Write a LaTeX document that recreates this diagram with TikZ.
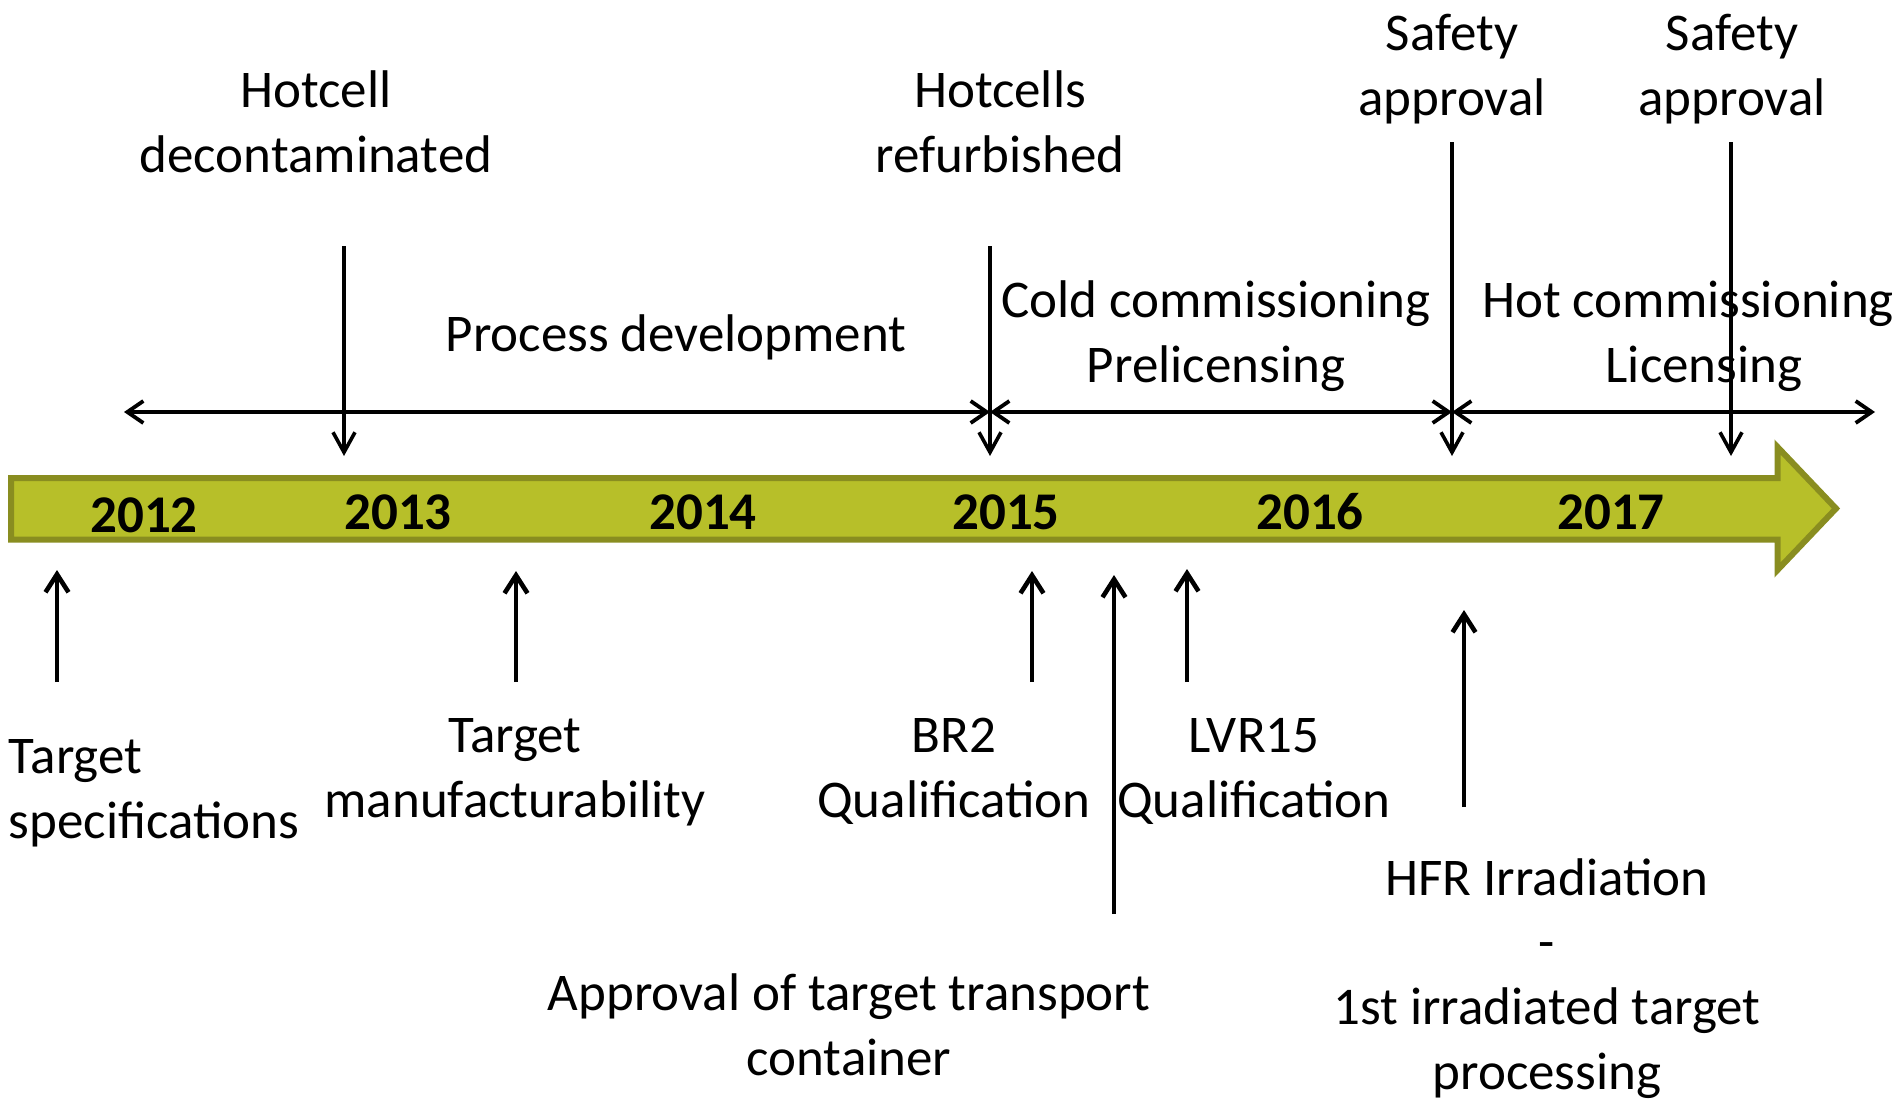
\documentclass[tikz,border=0pt]{standalone}
\usepackage{fontspec}
\setmainfont{Carlito}
\usetikzlibrary{arrows.meta}
\definecolor{bandfill}{RGB}{183,191,41}
\definecolor{banddraw}{RGB}{137,141,32}
\begin{document}
\begin{tikzpicture}[x=0.5pt,y=-0.5pt,
  lbl/.style={inner sep=0pt, outer sep=0pt, font=\fontsize{26.5}{32.3}\selectfont, align=center, anchor=base},
  yr/.style={inner sep=0pt, outer sep=0pt, font=\fontsize{26.5}{32.3}\selectfont\bfseries, anchor=base},
  down/.style={line width=1.8pt, -{Straight Barb[length=10pt,width=11pt]}},
  span/.style={line width=1.9pt, {Straight Barb[length=8pt,width=11pt]}-{Straight Barb[length=8pt,width=11pt]}},
  up/.style={line width=2.3pt, -{Straight Barb[length=9pt,width=11.5pt]}}]
\useasboundingbox (0,0) rectangle (1893,1102);

% timeline band
\draw[line width=3pt, draw=banddraw, fill=bandfill, line join=miter]
  (11,478) -- (1777.5,478) -- (1777.5,447) -- (1836,508.5) -- (1777.5,570)
  -- (1777.5,539.5) -- (11,539.5) -- cycle;

% years
\node[yr] (y2012) at (144,532) {2012};
\node[yr] (y2013) at (398,529) {2013};
\node[yr] (y2014) at (703,529) {2014};
\node[yr] (y2015) at (1006,529) {2015};
\node[yr] (y2016) at (1310,529) {2016};
\node[yr] (y2017) at (1611,529) {2017};

% top labels (anchor = baseline of last line)
\node[lbl] (hcd) at (316,172) {Hotcell\\decontaminated};
\node[lbl] (hcr) at (1000,172) {Hotcells\\refurbished};
\node[lbl] (sa1) at (1452,115) {Safety\\approval};
\node[lbl] (sa2) at (1732,115) {Safety\\approval};
\node[lbl] (pd) at (676,351) {Process development};
\node[lbl] (cold) at (1216,382) {Cold commissioning\\Prelicensing};
\node[lbl] (hot) at (1688,382) {Hot commissioning\\\hspace*{16pt}Licensing};

% bottom labels
\node[lbl, anchor=base west, align=left] (ts) at (9,838) {Target\\specifications};
\node[lbl] (tm) at (515,817) {Target\\manufacturability};
\node[lbl] (br2) at (954,817) {BR2\\Qualification};
\node[lbl] (lvr) at (1254,817) {LVR15\\Qualification};
\node[lbl] (apc) at (849,1075) {Approval of target transport\\container};
\node[lbl] (hfr) at (1547,1089) {HFR Irradiation\\-\\1st irradiated target\\processing};

% phase spans
\coordinate (t0) at (124,412);
\coordinate (t1) at (990,412);
\coordinate (t2) at (1452,412);
\coordinate (t3) at (1875,412);
\draw[span] (t0) -- (t1);
\draw[span] (t1) -- (t2);
\draw[span] (t2) -- (t3);

% milestone arrows (top)
\coordinate (hcd-a) at (344,246);  \coordinate (hcd-b) at (344,456);
\coordinate (hcr-a) at (990,246);  \coordinate (hcr-b) at (990,456);
\coordinate (sa1-a) at (1452,142); \coordinate (sa1-b) at (1452,456);
\coordinate (sa2-a) at (1731,142); \coordinate (sa2-b) at (1731,456);
\draw[down] (hcd-a) -- (hcd-b);
\draw[down] (hcr-a) -- (hcr-b);
\draw[down] (sa1-a) -- (sa1-b);
\draw[down] (sa2-a) -- (sa2-b);

% milestone arrows (bottom)
\coordinate (ts-a) at (57,682);    \coordinate (ts-b) at (57,570);
\coordinate (tm-a) at (516,682);   \coordinate (tm-b) at (516,571);
\coordinate (br2-a) at (1032,682); \coordinate (br2-b) at (1032,571);
\coordinate (apc-a) at (1114,914); \coordinate (apc-b) at (1114,575);
\coordinate (lvr-a) at (1187,682); \coordinate (lvr-b) at (1187,569);
\coordinate (hfr-a) at (1464,807); \coordinate (hfr-b) at (1464,610);
\draw[up] (ts-a) -- (ts-b);
\draw[up] (tm-a) -- (tm-b);
\draw[up] (br2-a) -- (br2-b);
\draw[up] (apc-a) -- (apc-b);
\draw[up] (lvr-a) -- (lvr-b);
\draw[up] (hfr-a) -- (hfr-b);
\end{tikzpicture}
\end{document}
